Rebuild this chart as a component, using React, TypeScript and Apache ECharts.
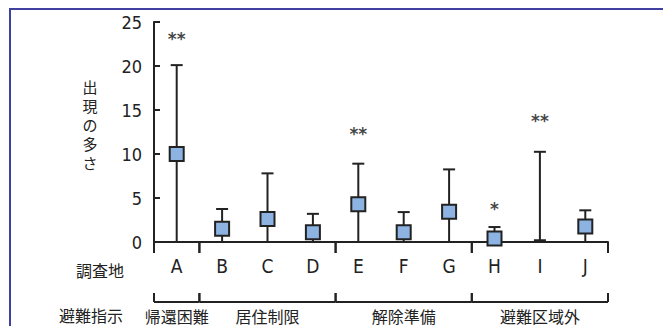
import React, { useEffect, useRef } from "react";
import * as echarts from "echarts";

const categories = ["A", "B", "C", "D", "E", "F", "G", "H", "I", "J"];
const means: (number | null)[] = [10.0, 1.5, 2.6, 1.1, 4.3, 1.1, 3.45, 0.4, null, 1.75];
const upper = [20.1, 3.75, 7.8, 3.2, 8.9, 3.4, 8.25, 1.7, 10.25, 3.6];
const lower = [0, 0, 0, 0, 0, 0, 0, 0, 0.2, 0];
const starCats = ["A", "E", "H", "I"];
const starTexts = ["**", "**", "*", "**"];
const starValues = [23.1, 12.3, 3.8, 13.7];
const groupNames = ["帰還困難", "居住制限", "解除準備", "避難区域外"];
const groupStart = [0, 1, 4, 7];
const groupEnd = [1, 4, 7, 10];
const yTicks = [0, 5, 10, 15, 20, 25];
const yNameChars = ["出", "現", "の", "多", "さ"];

const INK = "#222222";
const BORDER = "#4040a0";
const NARROW = "'Liberation Sans Narrow', 'DejaVu Sans Condensed', 'Noto Sans', sans-serif";
const JP = "'Noto Sans CJK JP', sans-serif";

export default function App() {
  const ref = useRef<HTMLDivElement>(null);
  useEffect(() => {
    if (!ref.current) return;
    const chart = echarts.init(ref.current, null, { renderer: "svg" });
    const option: any = {
      animation: false,
      backgroundColor: "#ffffff",
      grid: { left: 154, right: 55, top: 22, bottom: 84, containLabel: false },
      xAxis: {
        type: "category",
        data: categories,
        boundaryGap: true,
        axisLine: { lineStyle: { color: INK, width: 2 } },
        axisTick: { show: false },
        axisLabel: { color: INK, fontSize: 19, fontFamily: NARROW, margin: 14 },
        splitLine: { show: false },
      },
      yAxis: {
        type: "value",
        min: yTicks[0],
        max: yTicks[yTicks.length - 1],
        interval: 5,
        axisLine: { show: true, lineStyle: { color: INK, width: 2 } },
        axisTick: { show: true, inside: true, length: 6, lineStyle: { color: INK, width: 2 } },
        axisLabel: { color: INK, fontSize: 18, fontFamily: NARROW, margin: 12 },
        splitLine: { show: false },
      },
      graphic: [
        {
          type: "polyline",
          shape: { points: [[10, 326], [10, 9], [663, 9]] },
          style: { stroke: BORDER, lineWidth: 2, fill: "transparent" },
          z: 100,
        },
        ...yNameChars.map((ch, i) => ({
          type: "text",
          x: 90,
          y: 86 + i * 19,
          style: {
            text: ch,
            fontSize: 15,
            lineHeight: 15,
            fontFamily: JP,
            fill: INK,
            align: "center",
            verticalAlign: "middle",
          },
        })),
        {
          type: "text",
          x: 100,
          y: 270,
          style: { text: "調査地", fontSize: 16, lineHeight: 16, fontFamily: JP, fill: INK, align: "center", verticalAlign: "middle" },
        },
        {
          type: "text",
          x: 91,
          y: 315,
          style: { text: "避難指示", fontSize: 16, lineHeight: 16, fontFamily: JP, fill: INK, align: "center", verticalAlign: "middle" },
        },
      ],
      series: [
        {
          type: "custom",
          name: "groups",
          clip: false,
          silent: true,
          data: groupNames.map((n, i) => [groupStart[i], groupEnd[i]]),
          renderItem: (params: any, api: any) => {
            const s = api.value(0);
            const e = api.value(1);
            const bw = api.size([1, 0])[0];
            const base = api.coord([0, 0])[1];
            const x0 = api.coord([s, 0])[0] - bw / 2;
            const x1 = api.coord([e - 1, 0])[0] + bw / 2;
            const st = { stroke: INK, lineWidth: 2 };
            const by = base + 60;
            return {
              type: "group",
              children: [
                { type: "line", shape: { x1: x0, y1: base, x2: x0, y2: base + 11 }, style: st },
                { type: "line", shape: { x1: x1, y1: base, x2: x1, y2: base + 11 }, style: st },
                { type: "line", shape: { x1: x0, y1: by - 9, x2: x0, y2: by }, style: st },
                { type: "line", shape: { x1: x1, y1: by - 9, x2: x1, y2: by }, style: st },
                { type: "line", shape: { x1: x0, y1: by, x2: x1, y2: by }, style: st },
                {
                  type: "text",
                  x: (x0 + x1) / 2,
                  y: base + 74,
                  style: {
                    text: groupNames[params.dataIndex],
                    fontSize: 16,
                    lineHeight: 16,
                    fontFamily: JP,
                    fill: INK,
                    align: "center",
                    verticalAlign: "middle",
                  },
                },
              ],
            };
          },
          z: 1,
        },
        {
          type: "custom",
          name: "range",
          clip: false,
          data: categories.map((c, i) => [i, lower[i], upper[i]]),
          encode: { x: 0, y: [1, 2] },
          renderItem: (params: any, api: any) => {
            const x = api.value(0);
            const lo = api.coord([x, api.value(1)]);
            const hi = api.coord([x, api.value(2)]);
            const hw = 6;
            const st = { stroke: INK, lineWidth: 2 };
            return {
              type: "group",
              children: [
                { type: "line", shape: { x1: lo[0], y1: lo[1], x2: hi[0], y2: hi[1] }, style: st },
                { type: "line", shape: { x1: hi[0] - hw, y1: hi[1], x2: hi[0] + hw, y2: hi[1] }, style: st },
                { type: "line", shape: { x1: lo[0] - hw, y1: lo[1], x2: lo[0] + hw, y2: lo[1] }, style: st },
              ],
            };
          },
          z: 2,
        },
        {
          type: "scatter",
          name: "mean",
          data: means.map((v) => (v == null ? "-" : v)),
          symbol: "rect",
          symbolSize: 14,
          itemStyle: { color: "#8db3e2", borderColor: INK, borderWidth: 2, opacity: 1 },
          z: 3,
        },
        {
          type: "scatter",
          name: "sig",
          data: starCats.map((c, i) => [c, starValues[i]]),
          symbolSize: 1,
          itemStyle: { color: "rgba(0,0,0,0)" },
          label: {
            show: true,
            position: "inside",
            formatter: (p: any) => starTexts[p.dataIndex],
            fontSize: 17,
            fontWeight: "bold",
            color: "#111",
            fontFamily: "'DejaVu Sans', sans-serif",
          },
          z: 3,
        },
      ],
    };
    chart.setOption(option);
    return () => chart.dispose();
  }, []);
  return (
    <div
      ref={ref}
      style={{ position: "fixed", left: 0, top: 0, width: 663, height: 326, background: "#fff" }}
    />
  );
}
